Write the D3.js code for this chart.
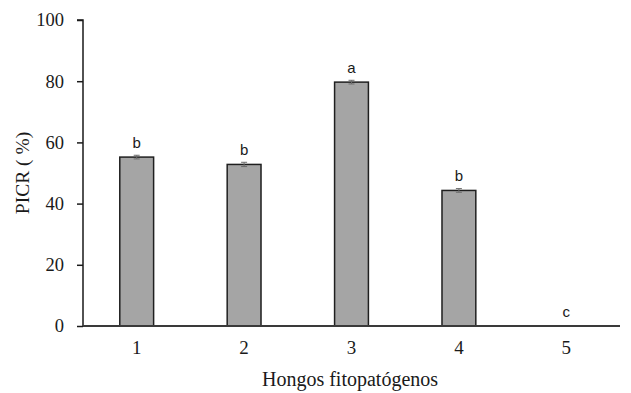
<!DOCTYPE html>
<html><head><meta charset="utf-8">
<script src="https://cdn.jsdelivr.net/npm/d3@7/dist/d3.min.js"></script>
<style>body{margin:0;background:#fff;}svg{display:block;}</style>
</head><body>
<svg id="c" width="631" height="393"></svg>
<script>
const categories = ["1","2","3","4","5"];
const values = [55.2, 52.8, 79.7, 44.3, 0];
const errors = [0.6, 0.7, 0.6, 0.6, 0];
const letters = ["b","b","a","b","c"];
const yTicks = [0,20,40,60,80,100];

const svg = d3.select("#c");
const m = {left:83, right:11, top:20, bottom:67};
const W = 631, H = 393;
const x = d3.scaleBand().domain(categories).range([m.left, W - m.right]).paddingInner(0).paddingOuter(0);
const y = d3.scaleLinear().domain([0,100]).range([H - m.bottom, m.top]);
const bw = x.bandwidth() * 0.315;
const serif = "Liberation Serif, Times New Roman, serif";

// bars
svg.append("g").selectAll("rect").data(values).join("rect")
  .attr("x", (d,i) => x(categories[i]) + x.bandwidth()/2 - bw/2)
  .attr("y", d => y(d))
  .attr("width", bw)
  .attr("height", d => y(0) - y(d))
  .attr("fill", "#a5a5a5")
  .attr("stroke", "#1f1f1f")
  .attr("stroke-width", 1.5)
  .attr("display", d => d > 0 ? null : "none");

// error bars
const eg = svg.append("g").attr("stroke", "#6b6b6b").attr("stroke-width", 1);
values.forEach((v,i) => {
  if (!errors[i]) return;
  const cx = x(categories[i]) + x.bandwidth()/2;
  eg.append("line").attr("x1", cx).attr("x2", cx).attr("y1", y(v+errors[i])).attr("y2", y(v-errors[i]));
  eg.append("line").attr("x1", cx-3).attr("x2", cx+3).attr("y1", y(v+errors[i])).attr("y2", y(v+errors[i]));
  eg.append("line").attr("x1", cx-3).attr("x2", cx+3).attr("y1", y(v-errors[i])).attr("y2", y(v-errors[i]));
});

// letters
svg.append("g").selectAll("text").data(values).join("text")
  .attr("x", (d,i) => x(categories[i]) + x.bandwidth()/2)
  .attr("y", d => y(d) - 9)
  .attr("text-anchor", "middle")
  .attr("font-family", "Liberation Sans, Arial, sans-serif")
  .attr("font-size", 15)
  .attr("fill", "#1a1a1a")
  .text((d,i) => letters[i]);

// y axis
const ya = svg.append("g").attr("transform", `translate(${m.left},0)`)
  .call(d3.axisLeft(y).tickValues(yTicks).tickSize(6).tickPadding(13));
ya.select(".domain").attr("stroke", "#1a1a1a").attr("stroke-width", 1.5).attr("d", `M-6,${y(100)}H0V${y(0)}`);
ya.selectAll(".tick line").attr("stroke", "#1a1a1a").attr("stroke-width", 1.5);
ya.selectAll(".tick text").attr("font-family", serif).attr("font-size", 18.5).attr("fill", "#1a1a1a");

// x axis
const xa = svg.append("g").attr("transform", `translate(0,${y(0)})`)
  .call(d3.axisBottom(x).tickSize(0).tickPadding(15));
xa.select(".domain").attr("stroke", "#3a3a3a").attr("stroke-width", 2).attr("d", `M${m.left},0H${W - m.right}`);
xa.selectAll(".tick text").attr("font-family", serif).attr("font-size", 19).attr("fill", "#1a1a1a");

// axis titles
svg.append("text").attr("transform", `translate(29,${(y(0)+y(100))/2}) rotate(-90)`)
  .attr("text-anchor", "middle").attr("font-family", serif)
  .attr("font-size", 19.5).attr("fill", "#1a1a1a").text("PICR ( %)");
svg.append("text").attr("x", 350).attr("y", 386)
  .attr("text-anchor", "middle").attr("font-family", serif)
  .attr("font-size", 20).attr("fill", "#1a1a1a").text("Hongos fitopatógenos");
</script>
</body></html>
